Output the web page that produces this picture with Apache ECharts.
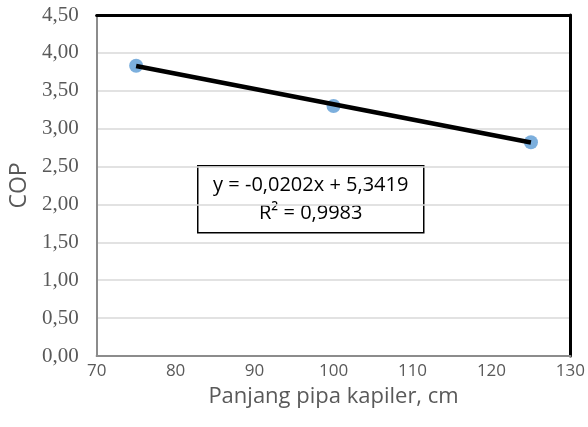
<!DOCTYPE html>
<html>
<head>
<meta charset="utf-8">
<script src="https://cdn.jsdelivr.net/npm/echarts@6/dist/echarts.min.js"></script>
<style>
  html, body { margin: 0; padding: 0; background: #fff; }
  #chart { width: 588px; height: 427px; }
</style>
</head>
<body>
<div id="chart"></div>
<script>
// data
var panjang = [75, 100, 125];          // panjang pipa kapiler, cm
var cop = [3.83, 3.30, 2.82];          // COP
var trendX = [75, 125];                // ends of the linear trendline
var trendY = [3.827, 2.817];
var eqText = ['y = -0,0202x + 5,3419', 'R² = 0,9983'];

var points = panjang.map(function (x, i) { return [x, cop[i]]; });
var trend = trendX.map(function (x, i) { return [x, trendY[i]]; });

var chart = echarts.init(document.getElementById('chart'));
var textGray = '#595959';
var frame = { show: true, onZero: false, lineStyle: { color: '#000', width: 3 } };

chart.setOption({
  animation: false,
  grid: { left: 93, right: 16, top: 15, bottom: 71 },
  xAxis: [{
    type: 'value', min: 70, max: 130, interval: 10,
    name: 'Panjang pipa kapiler, cm', nameLocation: 'middle', nameGap: 30,
    nameTextStyle: { fontFamily: 'Open Sans', fontSize: 22, color: textGray },
    axisLine: { show: true, onZero: false, lineStyle: { color: '#8c8c8c', width: 2 } },
    axisTick: { show: false },
    axisLabel: { fontFamily: 'Open Sans', fontSize: 17, color: textGray, margin: 7 },
    splitLine: { show: false }
  }, {
    // black frame along the top
    type: 'value', position: 'top', min: 70, max: 130,
    axisLine: frame, axisTick: { show: false }, axisLabel: { show: false }, splitLine: { show: false }
  }],
  yAxis: [{
    type: 'value', min: 0, max: 4.5, interval: 0.5,
    name: 'COP', nameLocation: 'middle', nameGap: 64,
    nameTextStyle: { fontFamily: 'Open Sans', fontSize: 23, color: textGray },
    axisLine: { show: true, onZero: false, lineStyle: { color: '#8c8c8c', width: 2 } },
    axisTick: { show: false },
    axisLabel: {
      fontFamily: 'Liberation Serif', fontSize: 21, color: textGray, margin: 18,
      formatter: function (v) { return v.toFixed(2).replace('.', ','); }
    },
    splitLine: { lineStyle: { color: '#d9d9d9', width: 1.5 } }
  }, {
    // black frame on the right
    type: 'value', position: 'right', min: 0, max: 4.5,
    axisLine: frame, axisTick: { show: false }, axisLabel: { show: false }, splitLine: { show: false }
  }],
  series: [
    {
      type: 'scatter', data: points, symbolSize: 14,
      itemStyle: { color: '#5b9bd5' }, z: 2
    },
    {
      type: 'line', data: trend, showSymbol: false,
      lineStyle: { color: '#000', width: 4.5 }, z: 3
    }
  ],
  graphic: [{
    type: 'group', left: 197, top: 165,
    children: [
      { type: 'rect', shape: { x: 0, y: 0, width: 226, height: 67 },
        style: { fill: '#fff', stroke: '#000', lineWidth: 1.5 } },
      { type: 'text', x: 113, y: 34,
        style: { text: eqText.join('\n'), fontFamily: 'Open Sans', fontSize: 20,
                 fill: '#000', align: 'center', verticalAlign: 'middle', lineHeight: 28 } }
    ]
  }]
});
</script>
</body>
</html>
